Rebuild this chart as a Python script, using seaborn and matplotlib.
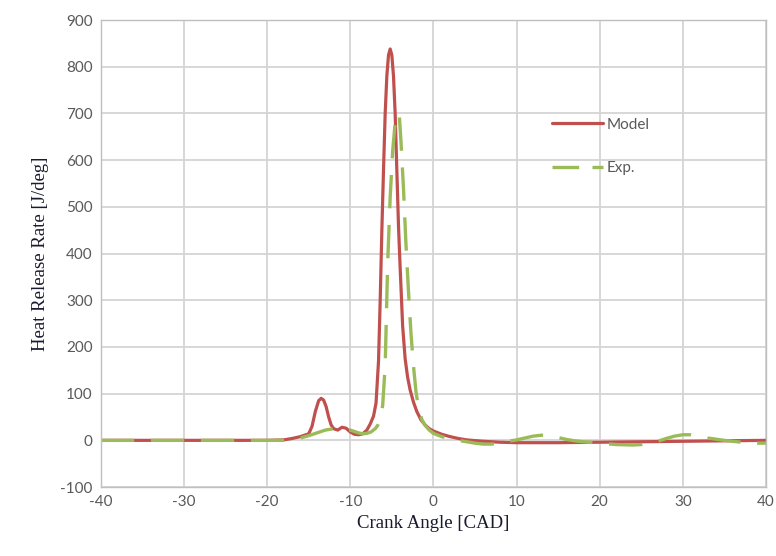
import matplotlib
matplotlib.use("Agg")
import matplotlib.pyplot as plt
import seaborn as sns
import pandas as pd

# Model (red, solid)
model_cad = [-40, -30, -20, -18, -17, -16, -15, -14.6, -14.2, -13.8, -13.5, -13.2, -12.9, -12.6, -12.3, -12.0,
             -11.5, -11.0, -10.5, -10.0, -9.5, -9.0, -8.5, -8.0, -7.6, -7.2, -6.9, -6.6, -6.4, -6.2, -6.0,
             -5.8, -5.6, -5.4, -5.2, -5.0, -4.8, -4.6, -4.4, -4.2, -4.0, -3.7, -3.4, -3.1, -2.8, -2.4,
             -2.0, -1.5, -1.0, -0.5, 0, 1, 2, 3, 4, 6, 8, 10, 15, 20, 25, 30, 35, 40]
model_hrr = [0, 0, 0, 1, 4, 8, 14, 30, 62, 85, 90, 86, 72, 50, 33, 25,
             22, 28, 26, 18, 13, 12, 14, 22, 35, 52, 80, 170, 300, 450, 580,
             700, 780, 825, 838, 825, 780, 700, 580, 460, 370, 245, 175, 135, 108, 82,
             62, 44, 33, 25, 20, 13, 8, 4, 1, -2, -4, -5, -5, -4, -3, -2, -1, 0]

# Experiment (green, dashed)
exp_cad = [-40, -30, -20, -18, -17, -16, -15, -14, -13, -12, -11, -10, -9, -8.5, -8.0, -7.5, -7.0,
           -6.7, -6.4, -6.1, -5.8, -5.5, -5.2, -4.9, -4.6, -4.3, -4.1, -3.9, -3.6, -3.3, -3.0,
           -2.7, -2.4, -2.1, -1.8, -1.4, -1.0, -0.5, 0, 1, 2, 3, 4, 5, 6, 7, 8, 9, 10, 11,
           12, 13, 14, 15, 16, 17, 18, 20, 22, 24, 25, 26, 27, 28, 29, 30, 31, 32, 33, 35, 37, 39, 40]
exp_hrr = [0, 0, 0, 0, 2, 5, 10, 16, 22, 25, 25, 22, 16, 14, 15, 18, 25,
           32, 45, 75, 160, 380, 520, 620, 680, 700, 695, 640, 540, 420, 320,
           230, 160, 105, 70, 45, 32, 22, 15, 8, 3, 0, -3, -6, -8, -8, -6, -2, 1, 5,
           9, 11, 10, 6, 2, -1, -3, -6, -9, -10, -9, -6, -2, 4, 9, 12, 12, 9, 5, 0, -4, -6, -6]

x_ticks = list(range(-40, 41, 10))
y_ticks = list(range(-100, 901, 100))

df_model = pd.DataFrame({"cad": model_cad, "hrr": model_hrr})
df_exp = pd.DataFrame({"cad": exp_cad, "hrr": exp_hrr})

sns.set_style("white")
plt.rcParams["font.family"] = ["Lato", "DejaVu Sans"]
plt.rcParams["axes.unicode_minus"] = False

fig = plt.figure(figsize=(7.76, 5.56), dpi=100)
ax = fig.add_axes([0.130, 0.124, 0.857, 0.840])

grid_c = "#d4d4d4"
for xv in x_ticks:
    ax.axvline(xv, color=grid_c, lw=1.3, zorder=0)
for yv in y_ticks:
    ax.axhline(yv, color=grid_c, lw=1.3, zorder=0)

sns.lineplot(data=df_model, x="cad", y="hrr", ax=ax, color="#c0504d", lw=2.3,
             label="Model", sort=False, estimator=None)
sns.lineplot(data=df_exp, x="cad", y="hrr", ax=ax, color="#9bbb59", lw=2.4,
             label="Exp.", sort=False, estimator=None, dashes=False)
ax.lines[-1].set_dashes([10, 5])

ax.set_xlim(-40, 40)
ax.set_ylim(-100, 900)
ax.set_xticks(x_ticks)
ax.set_yticks(y_ticks)
ax.tick_params(axis="both", length=0, labelsize=11, labelcolor="#595959", pad=6)
for s in ax.spines.values():
    s.set_color("#bfbfbf")
    s.set_linewidth(1.0)

ax.set_xlabel("Crank Angle [CAD]", family="Liberation Serif", fontsize=13.5, color="#1a1a2e", labelpad=4)
ax.set_ylabel("Heat Release Rate [J/deg]", family="Liberation Serif", fontsize=13.5, color="#1a1a2e", labelpad=8)

leg = ax.legend(loc="upper left", bbox_to_anchor=(0.658, 0.82), frameon=False,
                handlelength=3.3, labelspacing=1.9, handletextpad=0.25, fontsize=11)
for t in leg.get_texts():
    t.set_color("#595959")
ax.get_legend().legend_handles[1].set_dashes([8, 4])

fig.savefig("out.png", dpi=100)
